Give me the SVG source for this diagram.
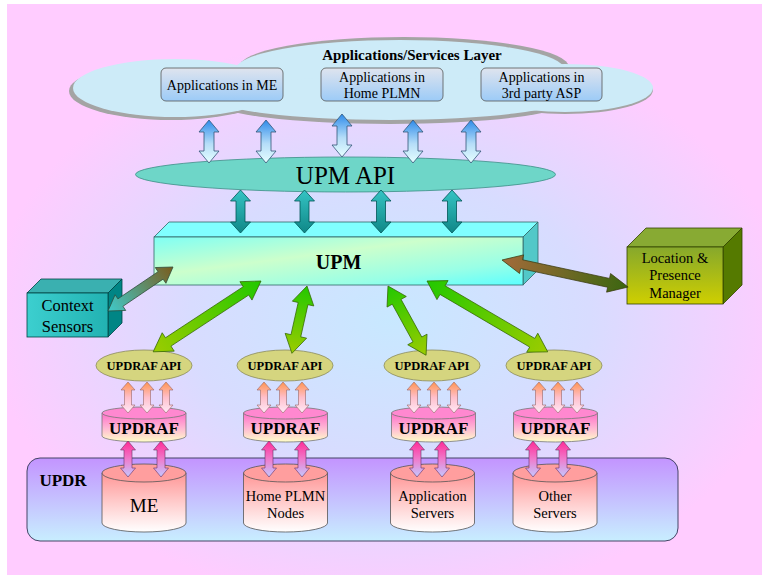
<svg xmlns="http://www.w3.org/2000/svg" width="762" height="575" viewBox="0 0 762 575">
  <defs>
    <radialGradient id="gBg" gradientUnits="userSpaceOnUse" cx="390" cy="320" r="400" gradientTransform="translate(390 320) scale(1 0.72) translate(-390 -320)">
      <stop offset="0" stop-color="#C8E8FF"/>
      <stop offset="0.5" stop-color="#D8DCFF"/>
      <stop offset="1" stop-color="#FFCCFF"/>
    </radialGradient>
    <linearGradient id="gCloudBox" x1="0" y1="0" x2="0" y2="1">
      <stop offset="0" stop-color="#DFE4EE"/>
      <stop offset="1" stop-color="#9CCBF7"/>
    </linearGradient>
    <linearGradient id="gBlue" x1="0" y1="0" x2="0" y2="1">
      <stop offset="0" stop-color="#2E8BEA"/>
      <stop offset="0.55" stop-color="#B5DDF8"/>
      <stop offset="1" stop-color="#E6FFFF"/>
    </linearGradient>
    <linearGradient id="gTeal" x1="0" y1="0" x2="0" y2="1">
      <stop offset="0" stop-color="#35C4C4"/>
      <stop offset="1" stop-color="#0F8787"/>
    </linearGradient>
    <linearGradient id="gUpmFront" x1="0" y1="0" x2="1" y2="1">
      <stop offset="0" stop-color="#7FFFF4"/>
      <stop offset="0.4" stop-color="#CCFFCC"/>
      <stop offset="0.75" stop-color="#99FFE6"/>
      <stop offset="1" stop-color="#5CFFFF"/>
    </linearGradient>
    <linearGradient id="gCtx" x1="0" y1="0" x2="1" y2="0">
      <stop offset="0" stop-color="#3CCFCF"/>
      <stop offset="1" stop-color="#22B2B2"/>
    </linearGradient>
    <linearGradient id="gLpm" x1="0" y1="0" x2="0" y2="1">
      <stop offset="0" stop-color="#86A82C"/>
      <stop offset="1" stop-color="#CFCF00"/>
    </linearGradient>
    <linearGradient id="gGreen" x1="0" y1="0" x2="1" y2="0">
      <stop offset="0" stop-color="#22C800"/>
      <stop offset="1" stop-color="#9CCC00"/>
    </linearGradient>
    <linearGradient id="gCtxArr" x1="0" y1="0" x2="1" y2="0">
      <stop offset="0" stop-color="#3FCACA"/>
      <stop offset="1" stop-color="#7A5C1C"/>
    </linearGradient>
    <linearGradient id="gLpmArr" x1="0" y1="0" x2="1" y2="0">
      <stop offset="0" stop-color="#A36B3A"/>
      <stop offset="1" stop-color="#3B6610"/>
    </linearGradient>
    <linearGradient id="gOrange" x1="0" y1="0" x2="0" y2="1">
      <stop offset="0" stop-color="#FF9450"/>
      <stop offset="0.5" stop-color="#FFBFCB"/>
      <stop offset="1" stop-color="#FFEAF8"/>
    </linearGradient>
    <linearGradient id="gPink" x1="0" y1="0" x2="0" y2="1">
      <stop offset="0" stop-color="#FF2A96"/>
      <stop offset="0.5" stop-color="#F07ACB"/>
      <stop offset="1" stop-color="#C4C8FF"/>
    </linearGradient>
    <linearGradient id="gUpdraf" x1="0" y1="0" x2="0" y2="1">
      <stop offset="0" stop-color="#FF6EC8"/>
      <stop offset="0.5" stop-color="#FFB4D4"/>
      <stop offset="1" stop-color="#FFFFC8"/>
    </linearGradient>
    <linearGradient id="gUpdr" x1="0" y1="0" x2="0" y2="1">
      <stop offset="0" stop-color="#C394FF"/>
      <stop offset="1" stop-color="#C8EEFF"/>
    </linearGradient>
    <linearGradient id="gDb" x1="0" y1="0" x2="0" y2="1">
      <stop offset="0" stop-color="#FF9696"/>
      <stop offset="0.5" stop-color="#FFCCCC"/>
      <stop offset="1" stop-color="#FFFFFF"/>
    </linearGradient>

    <!-- vertical double-headed block arrows, drawn from the top point down -->
    <path id="aBlue" d="M0,0 L10,12 L5,12 L5,31 L10,31 L0,43 L-10,31 L-5,31 L-5,12 L-10,12 Z" fill="url(#gBlue)" stroke="#335577" stroke-width="0.8"/>
    <path id="aTeal" d="M0,0 L10,11 L4.5,11 L4.5,32 L10,32 L0,43 L-10,32 L-4.5,32 L-4.5,11 L-10,11 Z" fill="url(#gTeal)" stroke="#005555" stroke-width="0.8"/>
    <path id="aOrange" d="M0,0 L7,8 L3.5,8 L3.5,23 L7,23 L0,31 L-7,23 L-3.5,23 L-3.5,8 L-7,8 Z" fill="url(#gOrange)" stroke="#996666" stroke-width="0.6"/>
    <path id="aPink" d="M0,0 L7.5,9 L4,9 L4,27 L7.5,27 L0,36 L-7.5,27 L-4,27 L-4,9 L-7.5,9 Z" fill="url(#gPink)" stroke="#663366" stroke-width="0.6"/>

    <!-- cylinders: origin at the centre of the top ellipse -->
    <g id="cylUpdraf" stroke="#777777" stroke-width="0.8">
      <path d="M-42,0 L-42,23 A42,6 0 0 0 42,23 L42,0 Z" fill="url(#gUpdraf)"/>
      <ellipse cx="0" cy="0" rx="42" ry="6" fill="#FF88D0"/>
    </g>
    <g id="cylDb" stroke="#555555" stroke-width="0.8">
      <path d="M-42,0 L-42,50 A42,9 0 0 0 42,50 L42,0 Z" fill="url(#gDb)"/>
      <ellipse cx="0" cy="0" rx="42" ry="9" fill="#FF9E9E"/>
    </g>
    <ellipse id="apiEll" cx="0" cy="0" rx="48" ry="15.5" fill="#D5D57F" stroke="#8A8A5A" stroke-width="0.8"/>
  </defs>

  <style>
    text{font-family:"Liberation Serif","DejaVu Serif",serif;fill:#000000;text-anchor:middle}
    .b{font-weight:bold}
    .box{fill:url(#gCloudBox);stroke:#555555;stroke-width:0.8}
  </style>

  <!-- page background -->
  <rect x="7" y="4" width="755" height="571" fill="url(#gBg)"/>

  <!-- applications / services cloud -->
  <g id="apps-layer">
    <g fill="#A4A4A4">
      <ellipse cx="171" cy="91" rx="102" ry="29"/>
      <ellipse cx="404" cy="67" rx="165" ry="30"/>
      <ellipse cx="390" cy="102" rx="175" ry="22"/>
      <ellipse cx="565" cy="90" rx="88" ry="24"/>
    </g>
    <g fill="#CDEBF8">
      <ellipse cx="175" cy="88" rx="102" ry="29"/>
      <ellipse cx="400" cy="70" rx="165" ry="30"/>
      <ellipse cx="390" cy="98" rx="175" ry="22"/>
      <ellipse cx="565" cy="88" rx="88" ry="24"/>
    </g>
    <text class="b" x="412" y="60" font-size="15" font-family="Liberation Serif, serif">Applications/Services Layer</text>
  </g>

  <g id="app-me">
    <rect class="box" x="161" y="68" width="122" height="33" rx="5"/>
    <text x="222" y="90" font-size="14" font-family="Liberation Serif, serif">Applications in ME</text>
  </g>
  <g id="app-home">
    <rect class="box" x="321" y="68" width="122" height="33" rx="5"/>
    <text x="382" y="82" font-size="14" font-family="Liberation Serif, serif">Applications in</text>
    <text x="382" y="97.5" font-size="14" font-family="Liberation Serif, serif">Home PLMN</text>
  </g>
  <g id="app-3rd">
    <rect class="box" x="481" y="68" width="121" height="33" rx="5"/>
    <text x="541.5" y="82" font-size="14" font-family="Liberation Serif, serif">Applications in</text>
    <text x="541.5" y="97.5" font-size="14" font-family="Liberation Serif, serif">3rd party ASP</text>
  </g>

  <!-- UPM API -->
  <g id="upm-api">
    <ellipse cx="345.5" cy="174.5" rx="210" ry="17.5" fill="#6ED6C8" stroke="#3E8E86" stroke-width="0.8"/>
    <text x="345.5" y="184" font-size="25" font-family="Liberation Serif, serif">UPM API</text>
  </g>

  <!-- UPM block -->
  <g id="upm" stroke="#336666" stroke-width="0.8">
    <polygon points="154,237 169,222 538,222 523,237" fill="#80FFFF"/>
    <polygon points="523,237 538,222 538,270 523,285" fill="#52C8C8"/>
    <rect x="154" y="237" width="369" height="48" fill="url(#gUpmFront)"/>
    <text class="b" x="338.5" y="268.5" font-size="20" stroke="none" font-family="Liberation Serif, serif">UPM</text>
  </g>

  <!-- Context Sensors block -->
  <g id="context-sensors" stroke="#004444" stroke-width="0.8">
    <polygon points="27,293 41,279 122,279 108,293" fill="#3AB0B0"/>
    <polygon points="108,293 122,279 122,323 108,337" fill="#008585"/>
    <rect x="27" y="293" width="81" height="44" fill="url(#gCtx)"/>
    <text x="67.5" y="311" font-size="16.5" stroke="none" font-family="Liberation Serif, serif">Context</text>
    <text x="67.5" y="332" font-size="16.5" stroke="none" font-family="Liberation Serif, serif">Sensors</text>
  </g>

  <!-- Location & Presence Manager block -->
  <g id="lpm" stroke="#334400" stroke-width="0.8">
    <polygon points="627,247 646,228 742,228 723,247" fill="#88AA33"/>
    <polygon points="723,247 742,228 742,285 723,304" fill="#557A00"/>
    <rect x="627" y="247" width="96" height="57" fill="url(#gLpm)"/>
    <text x="675" y="263" font-size="14.5" stroke="none" font-family="Liberation Serif, serif">Location &amp;</text>
    <text x="675" y="280" font-size="14.5" stroke="none" font-family="Liberation Serif, serif">Presence</text>
    <text x="675" y="298" font-size="14.5" stroke="none" font-family="Liberation Serif, serif">Manager</text>
  </g>

  <!-- UPDRAF API ellipses -->
  <g id="updraf-api-1">
    <use href="#apiEll" transform="translate(144,365.5)"/>
    <text class="b" x="144" y="369.5" font-size="12.5" font-family="Liberation Serif, serif">UPDRAF API</text>
  </g>
  <g id="updraf-api-2">
    <use href="#apiEll" transform="translate(285,365.5)"/>
    <text class="b" x="285" y="369.5" font-size="12.5" font-family="Liberation Serif, serif">UPDRAF API</text>
  </g>
  <g id="updraf-api-3">
    <use href="#apiEll" transform="translate(432,365.5)"/>
    <text class="b" x="432" y="369.5" font-size="12.5" font-family="Liberation Serif, serif">UPDRAF API</text>
  </g>
  <g id="updraf-api-4">
    <use href="#apiEll" transform="translate(554,365.5)"/>
    <text class="b" x="554" y="369.5" font-size="12.5" font-family="Liberation Serif, serif">UPDRAF API</text>
  </g>

  <!-- UPDRAF cylinders -->
  <g id="updraf-1">
    <use href="#cylUpdraf" transform="translate(144,413)"/>
    <text class="b" x="144" y="434" font-size="17" font-family="Liberation Serif, serif">UPDRAF</text>
  </g>
  <g id="updraf-2">
    <use href="#cylUpdraf" transform="translate(285.5,413)"/>
    <text class="b" x="285.5" y="434" font-size="17" font-family="Liberation Serif, serif">UPDRAF</text>
  </g>
  <g id="updraf-3">
    <use href="#cylUpdraf" transform="translate(433.5,413)"/>
    <text class="b" x="433.5" y="434" font-size="17" font-family="Liberation Serif, serif">UPDRAF</text>
  </g>
  <g id="updraf-4">
    <use href="#cylUpdraf" transform="translate(555.5,413)"/>
    <text class="b" x="555.5" y="434" font-size="17" font-family="Liberation Serif, serif">UPDRAF</text>
  </g>

  <!-- UPDR container -->
  <g id="updr">
    <rect x="27" y="458" width="651" height="83" rx="13" fill="url(#gUpdr)" stroke="#444466" stroke-width="1"/>
    <text class="b" x="63" y="486" font-size="17" font-family="Liberation Serif, serif">UPDR</text>
  </g>

  <!-- data stores -->
  <g id="db-me">
    <use href="#cylDb" transform="translate(144,473)"/>
    <text x="144" y="512" font-size="19" font-family="Liberation Serif, serif">ME</text>
  </g>
  <g id="db-home">
    <use href="#cylDb" transform="translate(285.5,473)"/>
    <text x="285.5" y="501" font-size="14.5" font-family="Liberation Serif, serif">Home PLMN</text>
    <text x="285.5" y="518" font-size="14.5" font-family="Liberation Serif, serif">Nodes</text>
  </g>
  <g id="db-app">
    <use href="#cylDb" transform="translate(432.5,473)"/>
    <text x="432.5" y="501" font-size="14.5" font-family="Liberation Serif, serif">Application</text>
    <text x="432.5" y="518" font-size="14.5" font-family="Liberation Serif, serif">Servers</text>
  </g>
  <g id="db-other">
    <use href="#cylDb" transform="translate(555,473)"/>
    <text x="555" y="501" font-size="14.5" font-family="Liberation Serif, serif">Other</text>
    <text x="555" y="518" font-size="14.5" font-family="Liberation Serif, serif">Servers</text>
  </g>

  <!-- connectors -->
  <g id="connectors">
    <!-- applications <-> UPM API -->
    <use href="#aBlue" transform="translate(209,120)"/>
    <use href="#aBlue" transform="translate(266,120)"/>
    <use href="#aBlue" transform="translate(342,114)"/>
    <use href="#aBlue" transform="translate(413,120)"/>
    <use href="#aBlue" transform="translate(471,120)"/>
    <!-- UPM API <-> UPM -->
    <use href="#aTeal" transform="translate(240.5,190)"/>
    <use href="#aTeal" transform="translate(304.5,190)"/>
    <use href="#aTeal" transform="translate(381,190)"/>
    <use href="#aTeal" transform="translate(452,190)"/>
    <!-- UPM <-> side blocks -->
    <path transform="translate(108,311) rotate(-34.1)" d="M0,0 L15,-9.5 L15,-4.5 L63.5,-4.5 L63.5,-9.5 L78.5,0 L63.5,9.5 L63.5,4.5 L15,4.5 L15,9.5 Z" fill="url(#gCtxArr)" stroke="#2E4A3A" stroke-width="0.7"/>
    <path transform="translate(502,260) rotate(12.1)" d="M0,0 L20,-9.5 L20,-4.5 L109,-4.5 L109,-9.5 L129,0 L109,9.5 L109,4.5 L20,4.5 L20,9.5 Z" fill="url(#gLpmArr)" stroke="#3A3A10" stroke-width="0.7"/>
    <!-- UPM <-> UPDRAF APIs -->
    <g fill="url(#gGreen)" stroke="#336600" stroke-width="0.7">
      <path transform="translate(261,281) rotate(146.7)" d="M0,0 L18,-11 L18,-5 L111,-5 L111,-11 L129,0 L111,11 L111,5 L18,5 L18,11 Z"/>
      <path transform="translate(307,286) rotate(102.6)" d="M0,0 L18,-11 L18,-5 L51,-5 L51,-11 L69,0 L51,11 L51,5 L18,5 L18,11 Z"/>
      <path transform="translate(388,286) rotate(61.2)" d="M0,0 L18,-11 L18,-5 L61,-5 L61,-11 L79,0 L61,11 L61,5 L18,5 L18,11 Z"/>
      <path transform="translate(427,281) rotate(30.4)" d="M0,0 L18,-11 L18,-5 L122,-5 L122,-11 L140,0 L122,11 L122,5 L18,5 L18,11 Z"/>
    </g>
    <!-- UPDRAF API <-> UPDRAF -->
    <use href="#aOrange" transform="translate(128,382)"/>
    <use href="#aOrange" transform="translate(147,382)"/>
    <use href="#aOrange" transform="translate(166,382)"/>
    <use href="#aOrange" transform="translate(264,382)"/>
    <use href="#aOrange" transform="translate(283,382)"/>
    <use href="#aOrange" transform="translate(302,382)"/>
    <use href="#aOrange" transform="translate(414,382)"/>
    <use href="#aOrange" transform="translate(434,382)"/>
    <use href="#aOrange" transform="translate(454,382)"/>
    <use href="#aOrange" transform="translate(539,382)"/>
    <use href="#aOrange" transform="translate(558,382)"/>
    <use href="#aOrange" transform="translate(577,382)"/>
    <!-- UPDRAF <-> data stores -->
    <use href="#aPink" transform="translate(128,441)"/>
    <use href="#aPink" transform="translate(161,441)"/>
    <use href="#aPink" transform="translate(269,441)"/>
    <use href="#aPink" transform="translate(302,441)"/>
    <use href="#aPink" transform="translate(417,441)"/>
    <use href="#aPink" transform="translate(442,441)"/>
    <use href="#aPink" transform="translate(533,441)"/>
    <use href="#aPink" transform="translate(563,441)"/>
  </g>
</svg>
